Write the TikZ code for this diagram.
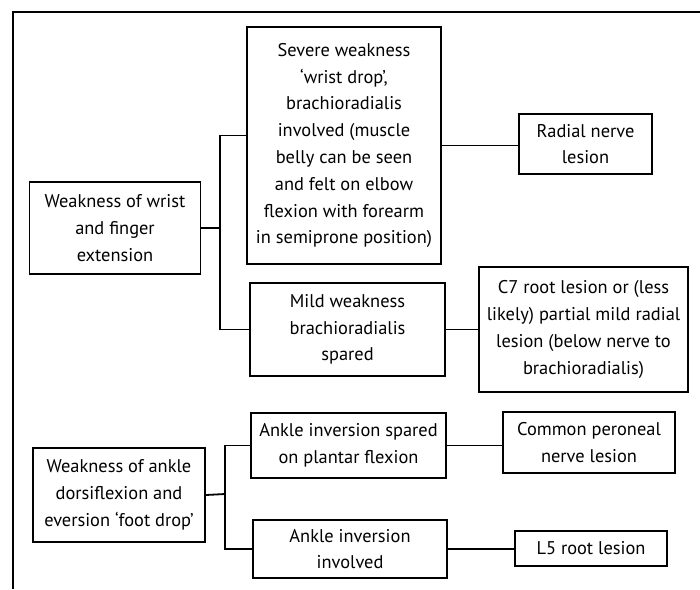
\documentclass[tikz,border=0pt]{standalone}
\usepackage{fontspec}
\setmainfont{PT Sans}
\usepackage{tikz}
\usetikzlibrary{calc}
\tikzset{>=latex}

\begin{document}
\begin{tikzpicture}[x=0.5pt, y=-0.5pt, line width=0.9pt,
  box/.style = {draw, align=center, inner sep=0pt,
    font=\fontsize{9.2}{13.4}\selectfont}]
\useasboundingbox (0,0) rectangle (700,589);
% frame
\draw (13,589) -- (13,12) -- (700,12);

% wrist
\node[box, minimum width=85.5pt, minimum height=46pt] (wrist) at (115,228)
  {Weakness of wrist\\and finger\\extension};
\node[box, minimum width=97pt, minimum height=118.5pt] (severe) at (344,145.5)
  {Severe weakness\\‘wrist drop’,\\brachioradialis\\involved (muscle\\belly can be seen\\and felt on elbow\\flexion with forearm\\in semiprone position)};
\node[box, minimum width=66.5pt, minimum height=30pt] (radial) at (585.5,144)
  {Radial nerve\\lesion};
\node[box, minimum width=97.5pt, minimum height=46.5pt] (mild) at (347.5,329.5)
  {Mild weakness\\brachioradialis\\spared};
\node[box, minimum width=104.5pt, minimum height=62.5pt] (cseven) at (583.5,329.5)
  {C7 root lesion or (less\\likely) partial mild radial\\lesion (below nerve to\\brachioradialis)};

% ankle
\node[box, minimum width=86pt, minimum height=47pt] (ankle) at (119,495)
  {Weakness of ankle\\dorsiflexion and\\eversion ‘foot drop’};
\node[box, minimum width=97.5pt, minimum height=32.5pt] (spared) at (348.5,445.5)
  {Ankle inversion spared\\on plantar flexion};
\node[box, minimum width=86pt, minimum height=30.5pt] (peroneal) at (589,442.5)
  {Common peroneal\\nerve lesion};
\node[box, minimum width=97pt, minimum height=29pt] (involved) at (350,549)
  {Ankle inversion\\involved};
\node[box, minimum width=76pt, minimum height=17.5pt] (lfive) at (591,548.5)
  {L5 root lesion};

% connectors
\coordinate (up) at (220,228);
\coordinate (lo) at (225,494);
\draw (wrist.east) -- (up);
\draw ([yshift=5pt]severe.west) -| (up) |- (mild.west);
\draw (severe.east) -- (severe.east -| radial.west);
\draw (mild.east) -- (mild.east -| cseven.west);
\draw (ankle.east) -- (lo);
\draw (spared.west) -| (lo) |- (involved.west);
\draw (spared.east) -- (spared.east -| peroneal.west);
\draw (involved.east) -- (involved.east -| lfive.west);
\end{tikzpicture}
\end{document}
